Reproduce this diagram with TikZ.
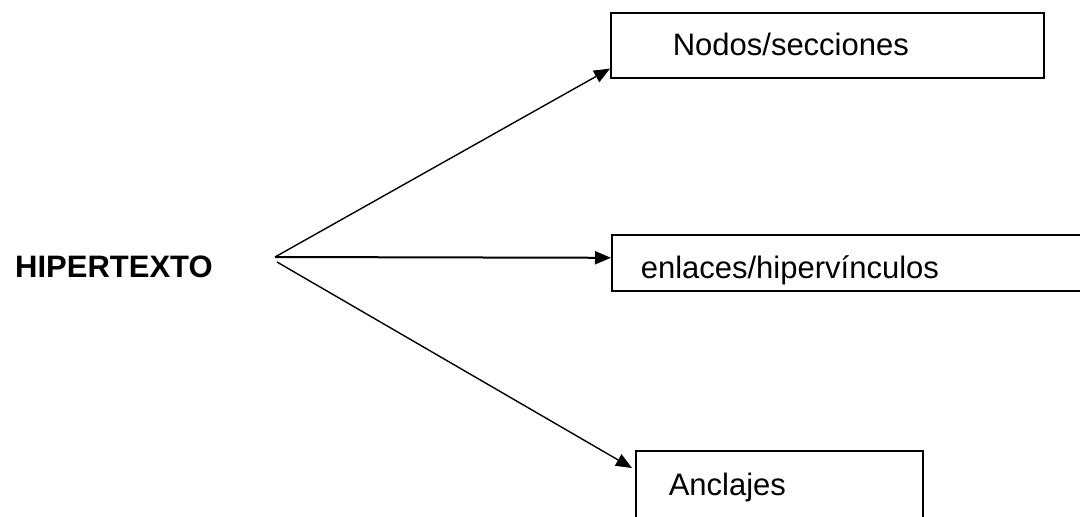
\documentclass[tikz,border=0pt]{standalone}
\usepackage{fontspec}
\setmainfont{Liberation Sans}
\usetikzlibrary{arrows.meta}
\begin{document}
\begin{tikzpicture}[x=1pt,y=-1pt,
  every node/.style={font=\fontsize{31}{37}\selectfont},
  topicbox/.style={draw, line width=1.6pt, anchor=north west, align=left,
    inner ysep=0pt, text depth=0pt},
  link/.style={line width=1.4pt, -{Triangle[length=16pt,width=13pt]}}]
  \useasboundingbox (0,0) rectangle (1080,517);
  \clip (0,0) rectangle (1080,517);
  \fill[white] (0,0) rectangle (1080,517);

  % central concept
  \node[anchor=base west, inner sep=0pt, font=\fontsize{31}{37}\selectfont\bfseries] (hyp) at (15,277) {HIPERTEXTO};
  \coordinate (fork) at (275,257);
  \coordinate (forklow) at (277,262);

  % the three components
  \node[topicbox, inner xsep=62pt, text width=309pt, minimum height=65pt, text height=21pt]
    (nodes) at (610,12) {Nodos/secciones};
  \node[topicbox, inner xsep=29pt, text width=431pt, minimum height=56pt, text height=32pt]
    (links) at (611,234) {enlaces/hipervínculos};
  \node[topicbox, inner xsep=33pt, text width=221pt, minimum height=70pt, text height=20pt]
    (anchors) at (635,450) {Anclajes};

  % arrow end points on the boxes
  \coordinate (tnodes) at ([yshift=10pt]nodes.south west);
  \coordinate (tlinks) at ([yshift=5pt]links.west);
  \coordinate (tanchors) at ([xshift=-3pt,yshift=-18pt]anchors.north west);

  \draw[link] (fork) -- (tnodes);
  \draw[link, line width=2pt] (fork) -- (tlinks);
  \draw[link] (forklow) -- (tanchors);
\end{tikzpicture}
\end{document}
